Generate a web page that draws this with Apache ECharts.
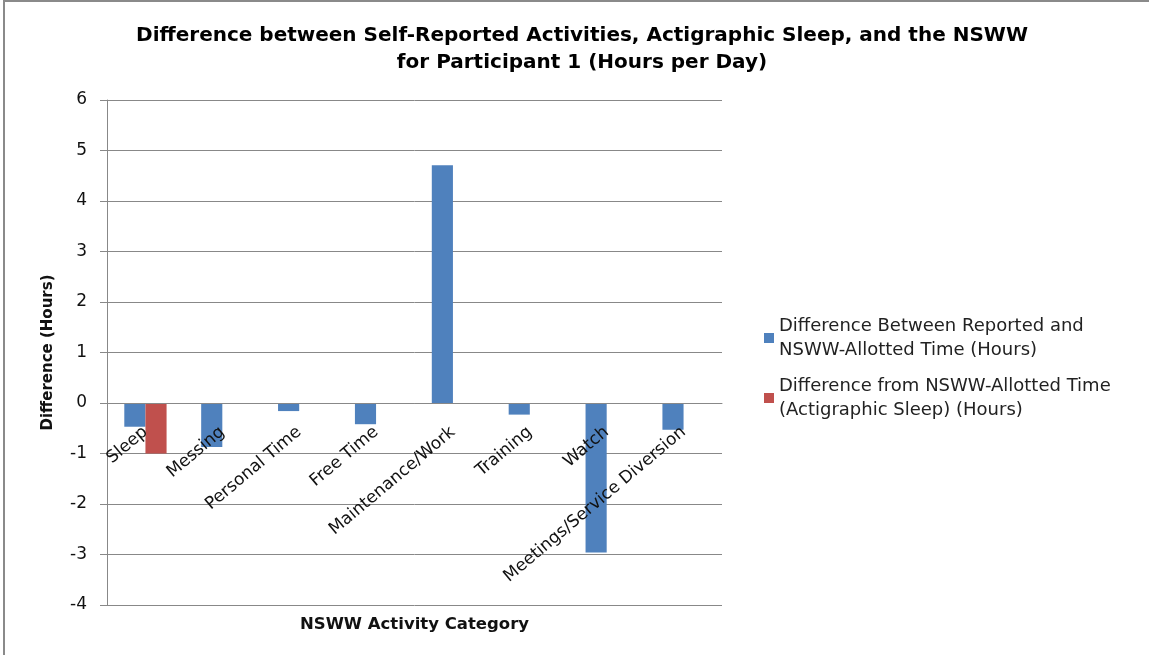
<!DOCTYPE html>
<html>
<head>
<meta charset="utf-8">
<script src="https://cdn.jsdelivr.net/npm/echarts@6/dist/echarts.min.js"></script>
<style>
  html, body { margin: 0; padding: 0; background: #fff; }
  #chart { width: 1149px; height: 655px; }
</style>
</head>
<body>
<div id="chart"></div>
<script>
const categories = ['Sleep', 'Messing', 'Personal Time', 'Free Time', 'Maintenance/Work', 'Training', 'Watch', 'Meetings/Service Diversion']
const reported = [-0.47, -0.87, -0.16, -0.42, 4.71, -0.23, -2.96, -0.53]
const actigraphic = [-1.0, '-', '-', '-', '-', '-', '-', '-']
const seriesNames = [
  'Difference Between Reported and NSWW-Allotted Time (Hours)',
  'Difference from NSWW-Allotted Time (Actigraphic Sleep) (Hours)'
]
const legendLabels = [
  'Difference Between Reported and\nNSWW-Allotted Time (Hours)',
  'Difference from NSWW-Allotted Time\n(Actigraphic Sleep) (Hours)'
]

const font = 'DejaVu Sans'
const chart = echarts.init(document.getElementById('chart'))

// x axis sits on the zero line (grid top 100, height 505, range -4..6)
const zeroOffset = -(505 * 4 / 10)

let option = {
  backgroundColor: '#fff',
  animation: false,
  title: {
    text: 'Difference between Self-Reported Activities, Actigraphic Sleep, and the NSWW\nfor Participant 1 (Hours per Day)',
    left: 577,
    textAlign: 'center',
    top: 17,
    textStyle: {
      fontFamily: font,
      fontWeight: 'bold',
      fontSize: 20,
      lineHeight: 27,
      color: '#000'
    }
  },
  graphic: [{
    type: 'rect',
    shape: { x: 4, y: 1, width: 1200, height: 700 },
    style: { fill: 'none', stroke: '#8a8a8a', lineWidth: 2 },
    silent: true
  }],
  legend: {
    orient: 'vertical',
    left: 759,
    top: 309,
    itemWidth: 10,
    itemHeight: 10,
    itemGap: 12,
    icon: 'rect',
    formatter: function (name) {
      return legendLabels[seriesNames.indexOf(name)]
    },
    textStyle: {
      fontFamily: font,
      fontSize: 18,
      lineHeight: 24,
      color: '#222'
    }
  },
  grid: {
    left: 107,
    right: 427,
    top: 100,
    bottom: 50,
    containLabel: false,
    outerBoundsMode: 'none'
  },
  xAxis: {
    type: 'category',
    data: categories,
    position: 'bottom',
    offset: zeroOffset,
    z: 10,
    name: 'NSWW Activity Category',
    nameLocation: 'middle',
    nameGap: 213,
    nameTextStyle: {
      fontFamily: font,
      fontWeight: 'bold',
      fontSize: 16.5,
      color: '#111'
    },
    axisLine: { onZero: false, lineStyle: { color: '#888' } },
    axisTick: { show: false },
    axisLabel: {
      rotate: 40,
      interval: 0,
      margin: 27,
      hideOverlap: false,
      fontFamily: font,
      fontSize: 17,
      color: '#111'
    }
  },
  yAxis: {
    type: 'value',
    min: -4,
    max: 6,
    interval: 1,
    name: 'Difference (Hours)',
    nameLocation: 'middle',
    nameGap: 51,
    nameTextStyle: {
      fontFamily: font,
      fontWeight: 'bold',
      fontSize: 15,
      color: '#111'
    },
    axisLine: { show: true, lineStyle: { color: '#888' } },
    axisTick: { show: true, inside: false, length: 7, lineStyle: { color: '#888' } },
    axisLabel: {
      margin: 20,
      fontFamily: font,
      fontSize: 17,
      color: '#111'
    },
    splitLine: { lineStyle: { color: '#888', width: 1 } }
  },
  series: [
    {
      name: seriesNames[0],
      type: 'bar',
      data: reported,
      barGap: '0%',
      barCategoryGap: '45%',
      itemStyle: { color: '#4F81BD' }
    },
    {
      name: seriesNames[1],
      type: 'bar',
      data: actigraphic,
      itemStyle: { color: '#C0504D' }
    }
  ]
}

chart.setOption(option)
</script>
</body>
</html>
